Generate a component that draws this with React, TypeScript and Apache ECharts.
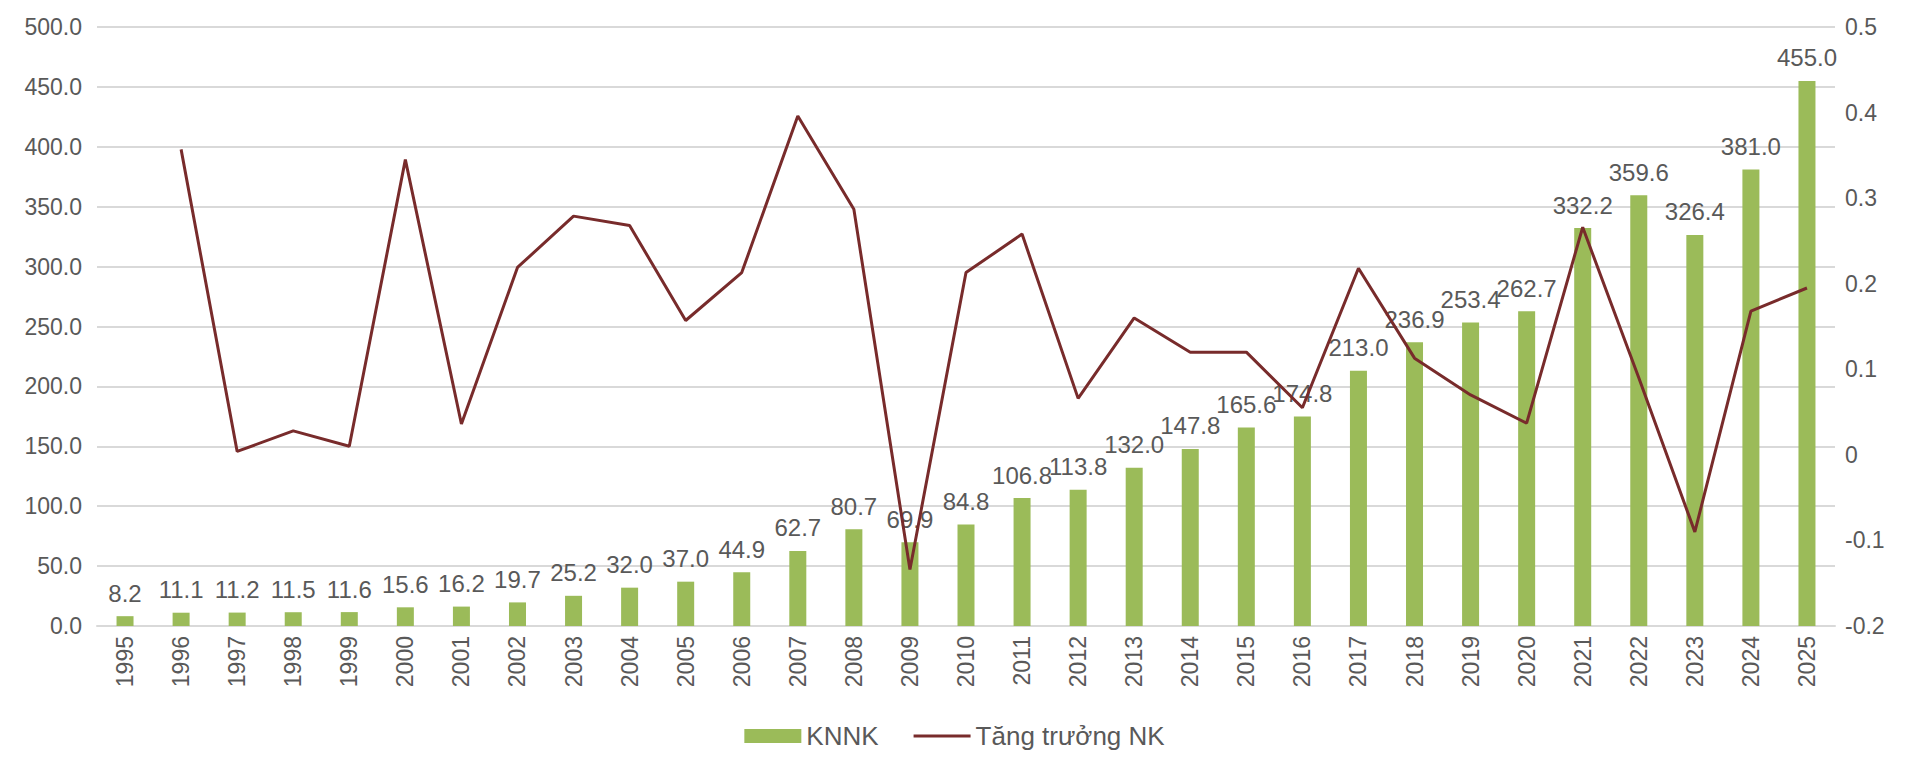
import React, { useEffect, useRef } from "react";
import * as echarts from "echarts";

const years = [
  "1995", "1996", "1997", "1998", "1999", "2000", "2001", "2002", "2003", "2004",
  "2005", "2006", "2007", "2008", "2009", "2010", "2011", "2012", "2013", "2014",
  "2015", "2016", "2017", "2018", "2019", "2020", "2021", "2022", "2023", "2024", "2025",
];

const knnk = [
  8.2, 11.1, 11.2, 11.5, 11.6, 15.6, 16.2, 19.7, 25.2, 32.0,
  37.0, 44.9, 62.7, 80.7, 69.9, 84.8, 106.8, 113.8, 132.0, 147.8,
  165.6, 174.8, 213.0, 236.9, 253.4, 262.7, 332.2, 359.6, 326.4, 381.0, 455.0,
];

const growth: (number | null)[] = [
  null, 0.357, 0.004, 0.028, 0.01, 0.345, 0.036, 0.219, 0.279, 0.268,
  0.157, 0.213, 0.396, 0.287, -0.134, 0.213, 0.258, 0.066, 0.16, 0.12,
  0.12, 0.055, 0.218, 0.113, 0.07, 0.037, 0.266, 0.09, -0.09, 0.168, 0.195,
];

const leftTicks = { min: 0, max: 500, interval: 50 };
const rightTicks = { min: -0.2, max: 0.5, interval: 0.1 };

const FONT = "'Liberation Sans', Arial, sans-serif";
const TXT = "#595959";
const GRID = "#D9D9D9";
const LINE = "#782B2B";

export default function App() {
  const ref = useRef<HTMLDivElement>(null);

  useEffect(() => {
    if (!ref.current) return;
    const chart = echarts.init(ref.current, undefined, { renderer: "svg" });
    chart.setOption({
      animation: false,
      backgroundColor: "#ffffff",
      textStyle: { fontFamily: FONT },
      grid: { left: 97, right: 74, top: 27, bottom: 131, containLabel: false },
      legend: {
        top: 722,
        left: "center",
        padding: 0,
        itemGap: 35,
        itemWidth: 57,
        itemHeight: 14,
        textStyle: { color: TXT, fontSize: 26, lineHeight: 28, fontFamily: FONT },
        data: [
          { name: "KNNK", icon: "rect" },
          { name: "Tăng trưởng NK", icon: "path://M0,0 L57,0 L57,3 L0,3 Z" },
        ],
      },
      xAxis: {
        type: "category",
        data: years,
        axisTick: { show: false },
        axisLine: { lineStyle: { color: GRID, width: 2 } },
        axisLabel: {
          rotate: 90,
          color: TXT,
          fontSize: 23,
          margin: 10,
          interval: 0,
          fontFamily: FONT,
        },
      },
      yAxis: [
        {
          type: "value",
          min: leftTicks.min,
          max: leftTicks.max,
          interval: leftTicks.interval,
          axisLine: { show: false },
          axisTick: { show: false },
          splitLine: { lineStyle: { color: GRID, width: 2 } },
          axisLabel: {
            color: TXT,
            fontSize: 23,
            margin: 15,
            fontFamily: FONT,
            formatter: (v: number) => v.toFixed(1),
          },
        },
        {
          type: "value",
          min: rightTicks.min,
          max: rightTicks.max,
          interval: rightTicks.interval,
          axisLine: { show: false },
          axisTick: { show: false },
          splitLine: { show: false },
          axisLabel: {
            color: TXT,
            fontSize: 23,
            margin: 10,
            fontFamily: FONT,
            formatter: (v: number) => (Math.abs(v) < 1e-9 ? "0" : v.toFixed(1)),
          },
        },
      ],
      series: [
        {
          name: "KNNK",
          type: "bar",
          data: knnk,
          barWidth: 17,
          itemStyle: { color: "#9BBB59" },
          label: {
            show: true,
            position: "top",
            distance: 11,
            color: TXT,
            fontSize: 24,
            fontFamily: FONT,
            formatter: (p: any) => Number(p.value).toFixed(1),
          },
          z: 2,
        },
        {
          name: "Tăng trưởng NK",
          type: "line",
          yAxisIndex: 1,
          data: growth,
          symbol: "none",
          showSymbol: false,
          connectNulls: false,
          lineStyle: { color: LINE, width: 3 },
          itemStyle: { color: LINE },
          z: 3,
        },
      ],
    });
    return () => chart.dispose();
  }, []);

  return (
    <div
      ref={ref}
      style={{ position: "fixed", left: 0, top: 0, width: 1909, height: 757 }}
    />
  );
}
